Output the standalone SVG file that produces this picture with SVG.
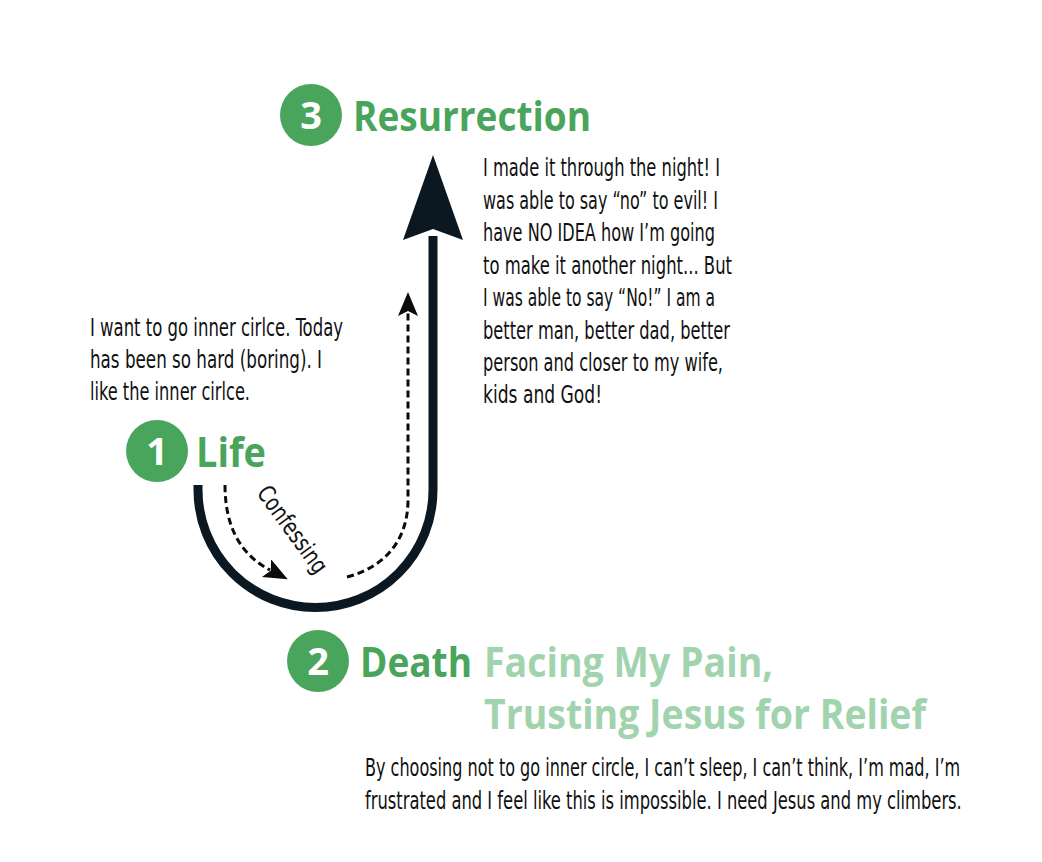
<svg xmlns="http://www.w3.org/2000/svg" width="1042" height="862" viewBox="0 0 1042 862">
<style>
.body{font-family:"Liberation Sans Narrow","DejaVu Sans Condensed","Liberation Sans",sans-serif;font-size:24px;fill:#111}
.head{font-family:"Open Sans","Liberation Sans",sans-serif;font-weight:bold;font-size:42px;fill:#4aa55c}
.light{fill:#a1d3ae}
.num{font-family:"Open Sans","Liberation Sans",sans-serif;font-weight:bold;font-size:38px;fill:#fff;text-anchor:middle}
.circ{fill:#4aa55c}
.dash{fill:none;stroke:#0b0b0b;stroke-width:3;stroke-dasharray:7 4}
.main{fill:none;stroke:#0b1822;stroke-width:9}
</style>
<defs>
<marker id="ah" markerUnits="userSpaceOnUse" viewBox="0 0 24 20" refX="4" refY="10" markerWidth="24" markerHeight="20" orient="auto">
<path d="M0,0 L24,10 L0,20 L5,10 Z" fill="#0b0b0b"/>
</marker>
</defs>
<rect width="1042" height="862" fill="#fff"/>
<g id="connectors">
<path class="main" d="M198,485 L198,490 A117.5,117.5 0 0 0 433,490 L433,236"/>
<polygon points="433,155 463,240 433,229 403,240" fill="#0b1822"/>
<path class="dash" d="M225,485 C225,530 243,556 270,570" marker-end="url(#ah)"/>
<path class="dash" d="M347,577 C385,567 408,540 408,500 L408,312" marker-end="url(#ah)"/>
<text class="body" font-size="22" transform="translate(256,493) rotate(54)" textLength="102" lengthAdjust="spacingAndGlyphs">Confessing</text>
</g>
<g id="node-resurrection">
<circle class="circ" cx="311" cy="115" r="31"/>
<text class="num" x="311" y="129">3</text>
<text class="head" x="353" y="131" textLength="238" lengthAdjust="spacingAndGlyphs">Resurrection</text>
</g>
<g id="node-resurrection-text">
<text class="body" x="483" y="176" textLength="237" lengthAdjust="spacingAndGlyphs">I made it through the night! I</text>
<text class="body" x="483" y="209" textLength="235" lengthAdjust="spacingAndGlyphs">was able to say “no” to evil! I</text>
<text class="body" x="483" y="241" textLength="232" lengthAdjust="spacingAndGlyphs">have NO IDEA how I’m going</text>
<text class="body" x="483" y="274" textLength="249" lengthAdjust="spacingAndGlyphs">to make it another night... But</text>
<text class="body" x="483" y="306" textLength="232" lengthAdjust="spacingAndGlyphs">I was able to say “No!” I am a</text>
<text class="body" x="483" y="339" textLength="247" lengthAdjust="spacingAndGlyphs">better man, better dad, better</text>
<text class="body" x="483" y="371" textLength="240" lengthAdjust="spacingAndGlyphs">person and closer to my wife,</text>
<text class="body" x="483" y="403" textLength="119" lengthAdjust="spacingAndGlyphs">kids and God!</text>
</g>
<g id="node-life">
<circle class="circ" cx="157" cy="451" r="31"/>
<text class="num" x="157" y="465">1</text>
<text class="head" x="196" y="467" textLength="70" lengthAdjust="spacingAndGlyphs">Life</text>
</g>
<g id="node-life-text">
<text class="body" x="90" y="336" textLength="253" lengthAdjust="spacingAndGlyphs">I want to go inner cirlce. Today</text>
<text class="body" x="90" y="368" textLength="232" lengthAdjust="spacingAndGlyphs">has been so hard (boring). I</text>
<text class="body" x="90" y="400" textLength="160" lengthAdjust="spacingAndGlyphs">like the inner cirlce.</text>
</g>
<g id="node-death">
<circle class="circ" cx="318" cy="661" r="31"/>
<text class="num" x="318" y="675">2</text>
<text class="head" x="360" y="677" textLength="112" lengthAdjust="spacingAndGlyphs">Death</text>
<text class="head light" x="484" y="677" textLength="289" lengthAdjust="spacingAndGlyphs">Facing My Pain,</text>
<text class="head light" x="484" y="729" textLength="442" lengthAdjust="spacingAndGlyphs">Trusting Jesus for Relief</text>
</g>
<g id="node-death-text" transform="translate(365,0) scale(0.8,1)">
<text class="body" x="0" y="776" textLength="744" lengthAdjust="spacingAndGlyphs">By choosing not to go inner circle, I can’t sleep, I can’t think, I’m mad, I’m</text>
<text class="body" x="0" y="809" textLength="746" lengthAdjust="spacingAndGlyphs">frustrated  and I feel like this is impossible. I need Jesus and my climbers.</text>
</g>
</svg>
